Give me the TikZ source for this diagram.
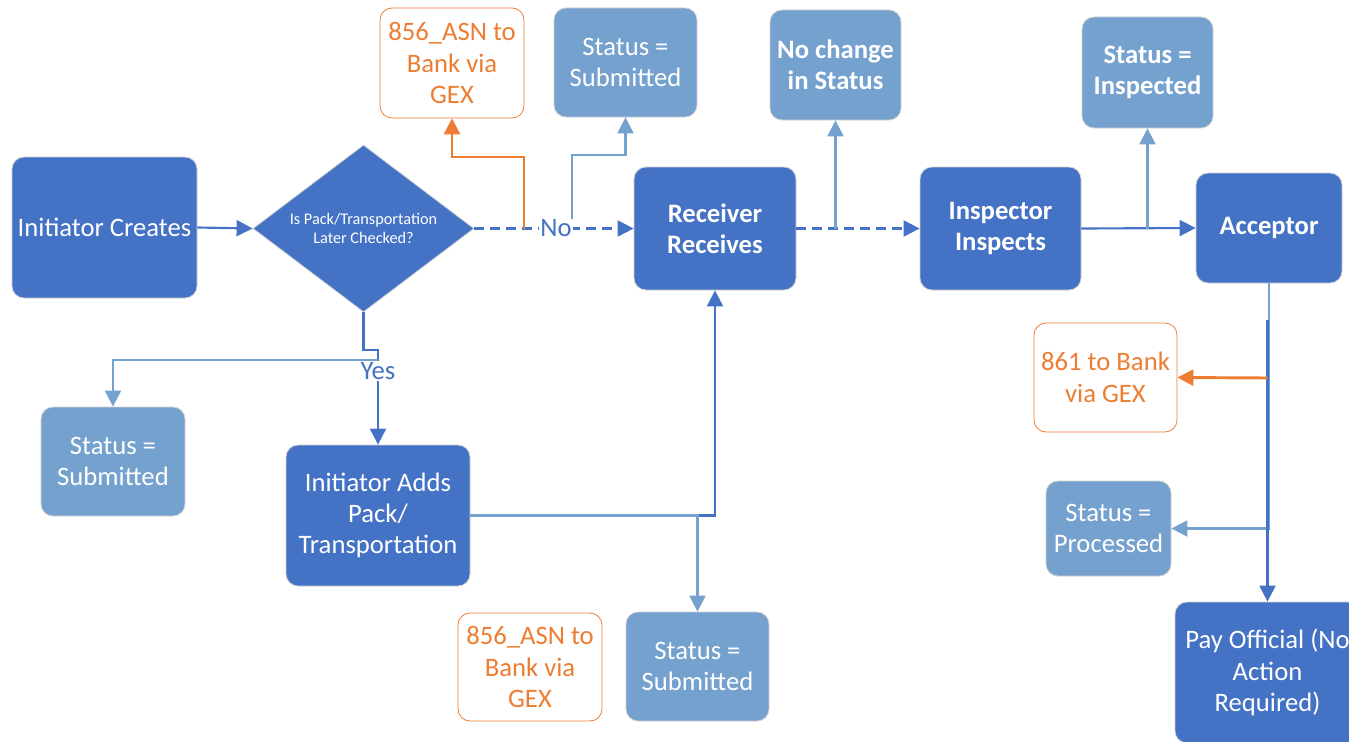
\documentclass[tikz,border=0pt]{standalone}
\usepackage{fontspec}
\setmainfont{Carlito}
\usetikzlibrary{arrows.meta,shapes.geometric}
\definecolor{dkb}{HTML}{4472C4}
\definecolor{ltb}{HTML}{75A1CF}
\definecolor{org}{HTML}{ED7D31}
\tikzset{
  base/.style={rounded corners=9pt, align=center, inner sep=0pt, draw=black!18, line width=0.6pt,
    font=\fontsize{20}{23.5}\selectfont},
  dbox/.style={base, fill=dkb, text=white},
  lbox/.style={base, fill=ltb, text=white},
  obox/.style={base, fill=white, draw=org, text=org},
  bf/.style={font=\fontsize{20}{23.5}\selectfont\bfseries},
  dk/.style={draw=dkb, line width=1.6pt, -{Triangle[length=12pt,width=12pt]}},
  lt/.style={draw=ltb, line width=1.6pt, -{Triangle[length=12pt,width=12pt]}},
  og/.style={draw=org, line width=2.2pt, -{Triangle[length=12pt,width=12pt]}},
  dsh/.style={dash pattern=on 7pt off 5pt},
  lbl/.style={fill=white, inner sep=1pt, text=dkb, font=\fontsize{20}{23.5}\selectfont},
}
\begin{document}
\begin{tikzpicture}[x=0.75pt,y=-0.75pt]
\useasboundingbox (0,0) rectangle (1349,742);
\clip (0,0) rectangle (1349,742);

% nodes
\node[dbox, minimum width=138.75pt, minimum height=105.75pt] (ic) at (104.5,227.5) {Initiator Creates};
\node[diamond, fill=dkb, draw=black!18, line width=0.6pt, text=white, align=center, inner sep=0pt,
      shape aspect=1.32, minimum width=165.75pt, minimum height=125.25pt,
      font=\fontsize{12.2}{14.5}\selectfont] (dia) at (363.5,228.5) {Is Pack/Transportation\\Later Checked?};
\node[obox, minimum width=108pt, minimum height=82.5pt] (asn1) at (452,63) {856\_ASN to\\Bank via\\GEX};
\node[lbox, minimum width=107.25pt, minimum height=81.75pt] (sub1) at (625.5,62.5) {Status =\\Submitted};
\node[lbox, bf, minimum width=98.25pt, minimum height=82.5pt] (noch) at (835.5,65) {No change\\in Status};
\node[lbox, bf, minimum width=98.25pt, minimum height=83.25pt] (insp) at (1147.5,72.5) {Status =\\Inspected};
\node[dbox, bf, minimum width=121.5pt, minimum height=92.25pt] (recv) at (715,228.5) {Receiver\\Receives};
\node[dbox, bf, minimum width=120.75pt, minimum height=92.25pt] (inspr) at (1000.5,228.5) {Inspector\\Inspects};
\node[dbox, bf, minimum width=109.5pt, minimum height=82.5pt] (acc) at (1269,228) {Acceptor};
\node[lbox, minimum width=108pt, minimum height=81.75pt] (sub2) at (113,461.5) {Status =\\Submitted};
\node[dbox, minimum width=138pt, minimum height=105.75pt] (add) at (378,515.5) {Initiator Adds\\Pack/\\Transportation};
\node[obox, minimum width=108pt, minimum height=81pt] (asn2) at (530,667) {856\_ASN to\\Bank via\\GEX};
\node[lbox, minimum width=107.25pt, minimum height=81.75pt] (sub3) at (697.5,666.5) {Status =\\Submitted};
\node[obox, minimum width=107.25pt, minimum height=81.75pt] (b861) at (1105.5,377.5) {861 to Bank\\via GEX};
\node[lbox, minimum width=93.75pt, minimum height=71.25pt] (proc) at (1108.5,528.5) {Status =\\Processed};
\node[dbox, minimum width=138.75pt, minimum height=105.75pt] (pay) at (1267.5,672.5) {Pay Official (No\\Action\\Required)};

% branch coordinates
\coordinate (oA) at (524,228.5);
\coordinate (lA) at (572,228.5);
\coordinate (yA) at (378,360);
\coordinate (nA) at (835.5,228.5);
\coordinate (iA) at (1147.5,228.5);
\coordinate (pA) at (1267.5,320);
\coordinate (oB) at (1267.5,378);

% connectors
\draw[dk] (ic.east) -- (dia.west);
\draw[dk, dsh] (dia.east) -- (recv.west);
\draw[og] (oA) -- (524,157) -| (asn1.south);
\draw[lt] (lA) -- (572,155) -| (sub1.south);
\draw[dk] (dia.south) -- (363.5,350) -- (378,350) -- (add.north);
\draw[lt] (yA) -| (sub2.north);
\draw[dk] (add.east) -| (recv.south);
\draw[lt] (add.east) -| (sub3.north);
\draw[dk, dsh] (recv.east) -- (inspr.west);
\draw[lt] (nA) -- (noch.south);
\draw[dk] (inspr.east) -- (acc.east -| acc.west);
\draw[lt] (iA) -- (insp.south);
\draw[lt] (acc.south) |- (proc.east);
\draw[dk] (pA) -- (pay.north);
\draw[og] (oB) -- (b861.east);

% labels
\node[lbl] (no) at (556,228.5) {No};
\node[lbl] (yes) at (378,371) {Yes};
\end{tikzpicture}
\end{document}
